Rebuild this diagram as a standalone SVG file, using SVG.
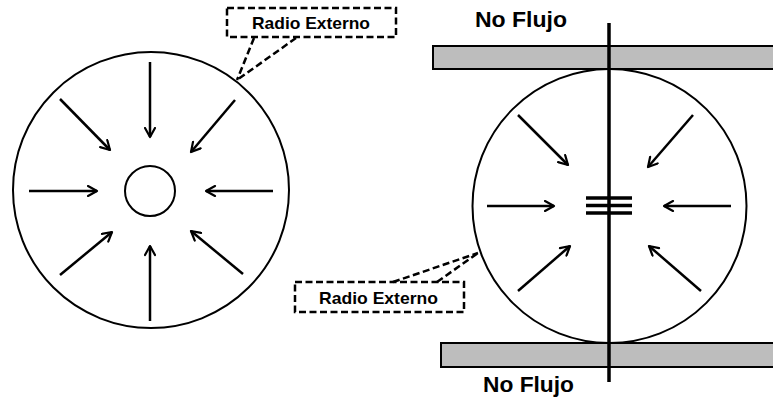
<svg xmlns="http://www.w3.org/2000/svg" width="773" height="400" viewBox="0 0 773 400">
<style>
.c{fill:none;stroke:#000;stroke-width:2}
.a{fill:none;stroke:#000;stroke-width:2.5;marker-end:url(#ah)}
.d{fill:none;stroke:#000;stroke-width:2.5;stroke-dasharray:7 3.5}
.bar{fill:#bdbdbd;stroke:#000;stroke-width:2}
.t{font-family:"Liberation Sans",Arial,sans-serif;font-weight:bold;fill:#000}
</style>
<defs>
<marker id="ah" viewBox="0 0 12 12" refX="10.5" refY="6" markerWidth="12" markerHeight="12" markerUnits="userSpaceOnUse" orient="auto">
<path d="M1.5,1 L10.5,6 L1.5,11" fill="none" stroke="#000" stroke-width="2.2" stroke-linecap="round" stroke-linejoin="round"/>
</marker>
</defs>
<rect width="773" height="400" fill="#fff"/>
<g id="left-well">
<circle class="c" cx="151" cy="190" r="138"/>
<circle class="c" cx="150" cy="191" r="25"/>
</g>
<g id="right-well">
<rect class="bar" x="433" y="46" width="345" height="23"/>
<rect class="bar" x="441" y="343" width="337" height="24"/>
<circle class="c" cx="609.5" cy="206" r="137"/>
<line x1="609" y1="23" x2="609" y2="382" stroke="#000" stroke-width="3.5"/>
<line x1="586" y1="198" x2="632" y2="198" stroke="#000" stroke-width="3.5"/>
<line x1="586" y1="205.5" x2="632" y2="205.5" stroke="#000" stroke-width="3.5"/>
<line x1="586" y1="213" x2="632" y2="213" stroke="#000" stroke-width="3.5"/>
</g>
<g id="labels">
<g id="label-top">
<rect class="d" x="227" y="8" width="169" height="29"/>
<text class="t" x="252" y="29" font-size="17" textLength="118" lengthAdjust="spacingAndGlyphs">Radio Externo</text>
</g>
<g id="label-bottom">
<rect class="d" x="295" y="282" width="169" height="30"/>
<text class="t" x="319" y="304" font-size="17" textLength="119" lengthAdjust="spacingAndGlyphs">Radio Externo</text>
</g>
<text class="t" x="475" y="27" font-size="22" textLength="92" lengthAdjust="spacingAndGlyphs">No Flujo</text>
<text class="t" x="483" y="392" font-size="22" textLength="91" lengthAdjust="spacingAndGlyphs">No Flujo</text>
</g>
<g id="connectors">
<line class="a" x1="150" y1="62" x2="150" y2="137"/>
<line class="a" x1="150" y1="321" x2="150" y2="246"/>
<line class="a" x1="29" y1="191" x2="97" y2="191"/>
<line class="a" x1="273" y1="191" x2="206" y2="191"/>
<line class="a" x1="60" y1="99" x2="110" y2="150"/>
<line class="a" x1="235" y1="100" x2="191" y2="152"/>
<line class="a" x1="60" y1="275" x2="112" y2="232"/>
<line class="a" x1="243" y1="274" x2="191" y2="231"/>
<line class="a" x1="518" y1="115" x2="568" y2="165"/>
<line class="a" x1="693" y1="115" x2="648" y2="167"/>
<line class="a" x1="487" y1="206" x2="554" y2="206"/>
<line class="a" x1="731" y1="206" x2="664" y2="206"/>
<line class="a" x1="518" y1="291" x2="570" y2="246"/>
<line class="a" x1="701" y1="291" x2="649" y2="246"/>
<line class="d" x1="254" y1="38" x2="237" y2="80"/>
<line class="d" x1="296" y1="38" x2="237" y2="80"/>
<line class="d" x1="393" y1="282" x2="478" y2="253"/>
<line class="d" x1="437" y1="282" x2="478" y2="253"/>
</g>
</svg>
